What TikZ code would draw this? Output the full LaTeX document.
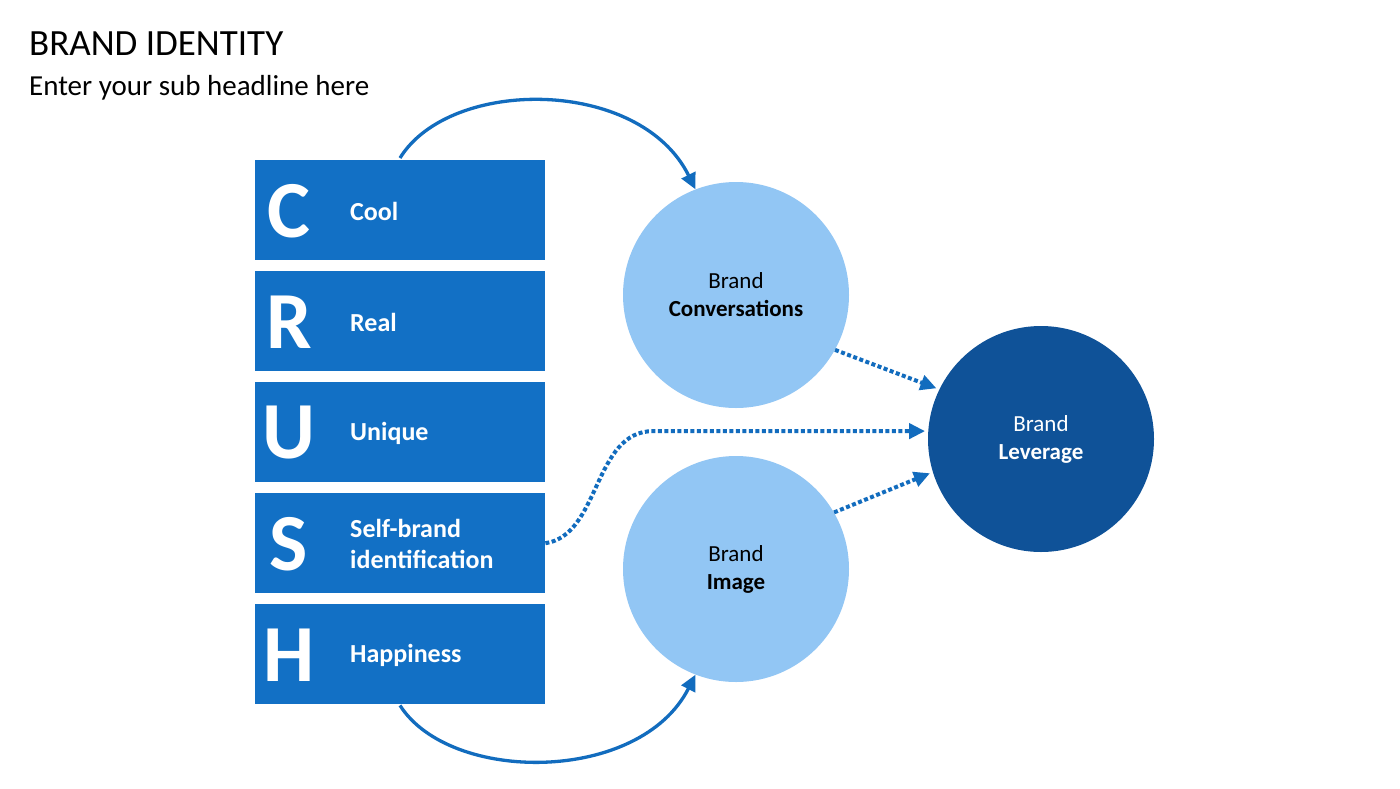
\documentclass[tikz,border=0pt]{standalone}
\usepackage{fontspec}
\setmainfont{Carlito}
\usetikzlibrary{arrows.meta,calc}
\definecolor{boxblue}{RGB}{18,112,197}
\definecolor{lightblue}{RGB}{146,198,244}
\definecolor{darkblue}{RGB}{15,82,152}
\definecolor{arrowblue}{RGB}{18,108,190}
\begin{document}
\begin{tikzpicture}[x=1pt,y=-1pt,
  crushbox/.style={fill=boxblue,draw=none,minimum width=290pt,minimum height=100pt,inner sep=0pt,anchor=north west},
  bigletter/.style={text=white,font=\fontsize{81}{81}\selectfont\bfseries,inner sep=0pt,anchor=center},
  boxlabel/.style={text=white,font=\fontsize{26}{31}\selectfont\bfseries,inner sep=0pt,anchor=west,align=left},
  bubble/.style={circle,draw=none,minimum size=226pt,inner sep=0pt,align=center,font=\fontsize{23}{28}\selectfont},
  solidarrow/.style={draw=arrowblue,line width=3.3pt,-{Triangle[length=16pt,width=15pt]}},
  dotarrow/.style={draw=arrowblue,line width=4pt,dash pattern=on 4pt off 2.5pt,-{Triangle[length=16pt,width=15pt]},shorten >=3pt}
]
\useasboundingbox (0,0) rectangle (1400,788);
\fill[white] (0,0) rectangle (1400,788);

\node[anchor=base west,inner sep=0pt,font=\fontsize{37}{40}\selectfont] (title) at (29,55) {BRAND IDENTITY};
\node[anchor=base west,inner sep=0pt,font=\fontsize{29}{32}\selectfont] (sub) at (29,95) {Enter your sub headline here};

\node[crushbox] (C) at (255,160) {};
\node[crushbox] (R) at (255,271) {};
\node[crushbox] (U) at (255,382) {};
\node[crushbox] (S) at (255,493) {};
\node[crushbox] (H) at (255,604) {};

\node[bigletter] (lC) at (289,211) {C};
\node[bigletter] (lR) at (289,322) {R};
\node[bigletter] (lU) at (289,433) {U};
\node[bigletter] (lS) at (289,544) {S};
\node[bigletter] (lH) at (289,655) {H};

\node[boxlabel] (tC) at (350,211) {Cool};
\node[boxlabel] (tR) at (350,322) {Real};
\node[boxlabel] (tU) at (350,433) {Unique};
\node[boxlabel] (tS) at (350,544) {Self-brand\\identification};
\node[boxlabel] (tH) at (350,655) {Happiness};

\node[bubble,fill=lightblue,text=black] (conv) at (736,295) {Brand\\\textbf{Conversations}};
\node[bubble,fill=lightblue,text=black] (img) at (736,569) {Brand\\\textbf{Image}};
\node[bubble,fill=darkblue,text=white] (lev) at (1041,439) {Brand\\\textbf{Leverage}};

\coordinate (topstart) at ($(C.north west)+(145,-2)$);
\coordinate (botstart) at ($(H.south west)+(145,1)$);
\draw[solidarrow] (topstart) .. controls (450,77) and (640,77) .. (conv.111);
\draw[solidarrow] (botstart) .. controls (450,784) and (640,784) .. (img.249);

\draw[dotarrow] (conv.-29) -- (lev.154);
\draw[dotarrow] (img.30) -- (lev.197);
\draw[dotarrow] (S.east) .. controls ($(S.east)+(55,-8)$) and ($(lev.176)+(-335,0)$) .. ($(lev.176)+(-275,0)$) -- (lev.176);
\end{tikzpicture}
\end{document}
